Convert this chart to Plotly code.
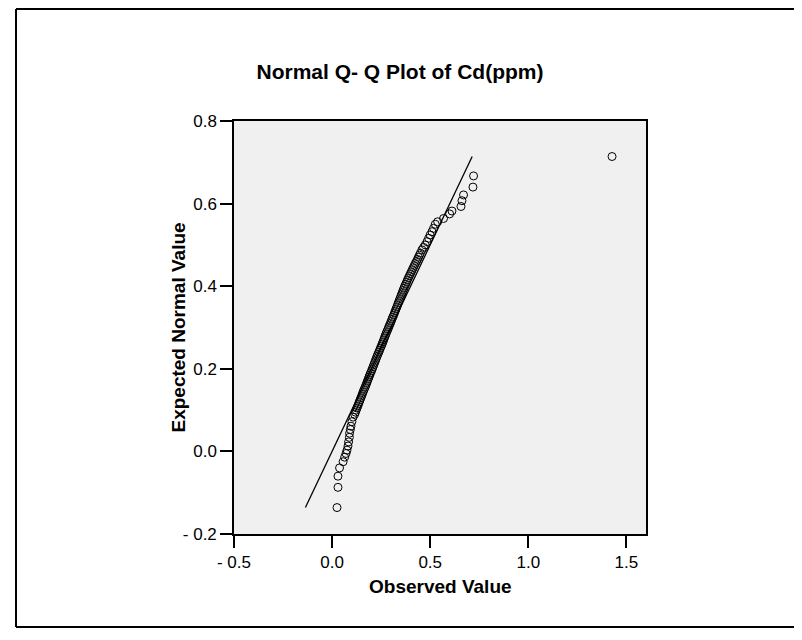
import plotly.graph_objects as go

observed = [
    0.025, 0.030, 0.030, 0.038, 0.056, 0.064, 0.071, 0.076, 0.081, 0.084,
    0.088, 0.089, 0.093, 0.096, 0.101, 0.107,
    0.115, 0.119, 0.123, 0.127, 0.131, 0.135, 0.139, 0.143, 0.147, 0.151,
    0.155, 0.159, 0.163, 0.168, 0.172, 0.176, 0.180, 0.184, 0.188, 0.192,
    0.196, 0.201, 0.205, 0.209, 0.213, 0.217, 0.221, 0.225, 0.229, 0.233,
    0.238, 0.242, 0.246, 0.251, 0.255, 0.259, 0.263, 0.267, 0.271, 0.275,
    0.279, 0.284, 0.288, 0.292, 0.297, 0.301, 0.305, 0.309, 0.314, 0.318,
    0.322, 0.326, 0.330, 0.334, 0.338, 0.342, 0.346, 0.350, 0.354, 0.358,
    0.362, 0.366, 0.370, 0.375, 0.380, 0.384, 0.389, 0.394, 0.399, 0.404,
    0.409, 0.414, 0.419, 0.424, 0.430, 0.435, 0.440, 0.445, 0.450,
    0.458, 0.466, 0.475, 0.484, 0.492, 0.500, 0.509, 0.517, 0.526, 0.538,
    0.568, 0.599, 0.611, 0.657, 0.662, 0.670, 0.718, 0.721, 1.427,
]
expected = [
    -0.136, -0.087, -0.060, -0.040, -0.025, -0.014, -0.005, 0.003, 0.013, 0.023,
    0.034, 0.044, 0.053, 0.061, 0.072, 0.083,
    0.090, 0.095, 0.100, 0.105, 0.110, 0.115, 0.120, 0.125, 0.130, 0.135,
    0.140, 0.145, 0.150, 0.155, 0.160, 0.165, 0.170, 0.175, 0.180, 0.185,
    0.190, 0.195, 0.200, 0.205, 0.210, 0.215, 0.220, 0.225, 0.230, 0.235,
    0.240, 0.245, 0.250, 0.255, 0.260, 0.265, 0.270, 0.275, 0.280, 0.285,
    0.290, 0.295, 0.300, 0.305, 0.310, 0.315, 0.320, 0.325, 0.330, 0.335,
    0.340, 0.345, 0.350, 0.355, 0.360, 0.365, 0.370, 0.375, 0.380, 0.385,
    0.390, 0.395, 0.400, 0.405, 0.410, 0.415, 0.420, 0.425, 0.430, 0.435,
    0.440, 0.445, 0.450, 0.455, 0.460, 0.465, 0.470, 0.475, 0.480,
    0.488, 0.494, 0.500, 0.508, 0.516, 0.524, 0.532, 0.540, 0.550, 0.556,
    0.564, 0.575, 0.582, 0.593, 0.607, 0.621, 0.640, 0.667, 0.714,
]

# Reference line (y = x) end points
ref_line = [-0.136, 0.714]

x_tickvals = [-0.5, 0.0, 0.5, 1.0, 1.5]
x_ticktext = ["- 0.5", "0.0", "0.5", "1.0", "1.5"]
y_tickvals = [-0.2, 0.0, 0.2, 0.4, 0.6, 0.8]
y_ticktext = ["- 0.2", "0.0", "0.2", "0.4", "0.6", "0.8"]

FONT = "Liberation Sans, Arial, sans-serif"

W, H = 786, 620

fig = go.Figure()
fig.add_trace(go.Scatter(
    x=ref_line, y=ref_line, mode="lines",
    line=dict(color="black", width=1.3), showlegend=False, hoverinfo="skip",
))
fig.add_trace(go.Scatter(
    x=observed, y=expected, mode="markers",
    marker=dict(symbol="circle-open", size=8, color="black", line=dict(width=1, color="black")),
    showlegend=False,
))

# outer frame edges (left, top, bottom)
fx0 = (8 - 226) / 412
fx1 = (W + 20 - 226) / 412
fy0 = (526 - 619) / 413
fy1 = (526 - 1) / 413
frame_line = dict(color="black", width=2)
frame_shapes = [
    dict(type="line", xref="paper", yref="paper", x0=fx0, x1=fx0, y0=fy0, y1=fy1, line=frame_line),
    dict(type="line", xref="paper", yref="paper", x0=fx0, x1=fx1, y0=fy1, y1=fy1, line=frame_line),
    dict(type="line", xref="paper", yref="paper", x0=fx0, x1=fx1, y0=fy0, y1=fy0, line=frame_line),
]

fig.update_layout(
    width=W, height=H,
    margin=dict(l=226, r=W - 638, t=113, b=H - 526),
    paper_bgcolor="white",
    plot_bgcolor="#F0F0F0",
    font=dict(family=FONT, size=17, color="black"),
    title=dict(
        text="<b>Normal Q- Q Plot of Cd(ppm)</b>",
        x=(400 - 8) / W, xref="container", xanchor="center",
        y=1 - 63.7 / H, yref="container", yanchor="middle",
        font=dict(family=FONT, size=21, color="black"),
    ),
    xaxis=dict(
        range=[-0.5, 1.6], tickvals=x_tickvals, ticktext=x_ticktext,
        showgrid=False, zeroline=False, showline=True, linecolor="black",
        linewidth=1.5, mirror=True, ticks="outside", ticklen=12,
        tickcolor="black", tickwidth=1.5,
    ),
    yaxis=dict(
        range=[-0.2, 0.8], tickvals=y_tickvals, ticktext=y_ticktext,
        showgrid=False, zeroline=False, showline=True, linecolor="black",
        linewidth=1.5, mirror=True, ticks="outside", ticklen=12,
        tickcolor="black", tickwidth=1.5,
    ),
    annotations=[
        dict(text="<b>Observed Value</b>", xref="paper", yref="paper",
             x=0.5, y=-52.7 / 413, xanchor="center", yanchor="middle",
             showarrow=False, font=dict(family=FONT, size=19, color="black")),
        dict(text="<b>Expected Normal Value</b>", xref="paper", yref="paper",
             x=-56 / 412, y=0.5, xanchor="center", yanchor="middle",
             textangle=-90, showarrow=False,
             font=dict(family=FONT, size=19, color="black")),
    ],
    shapes=frame_shapes,
)

fig.write_html("out.html")
